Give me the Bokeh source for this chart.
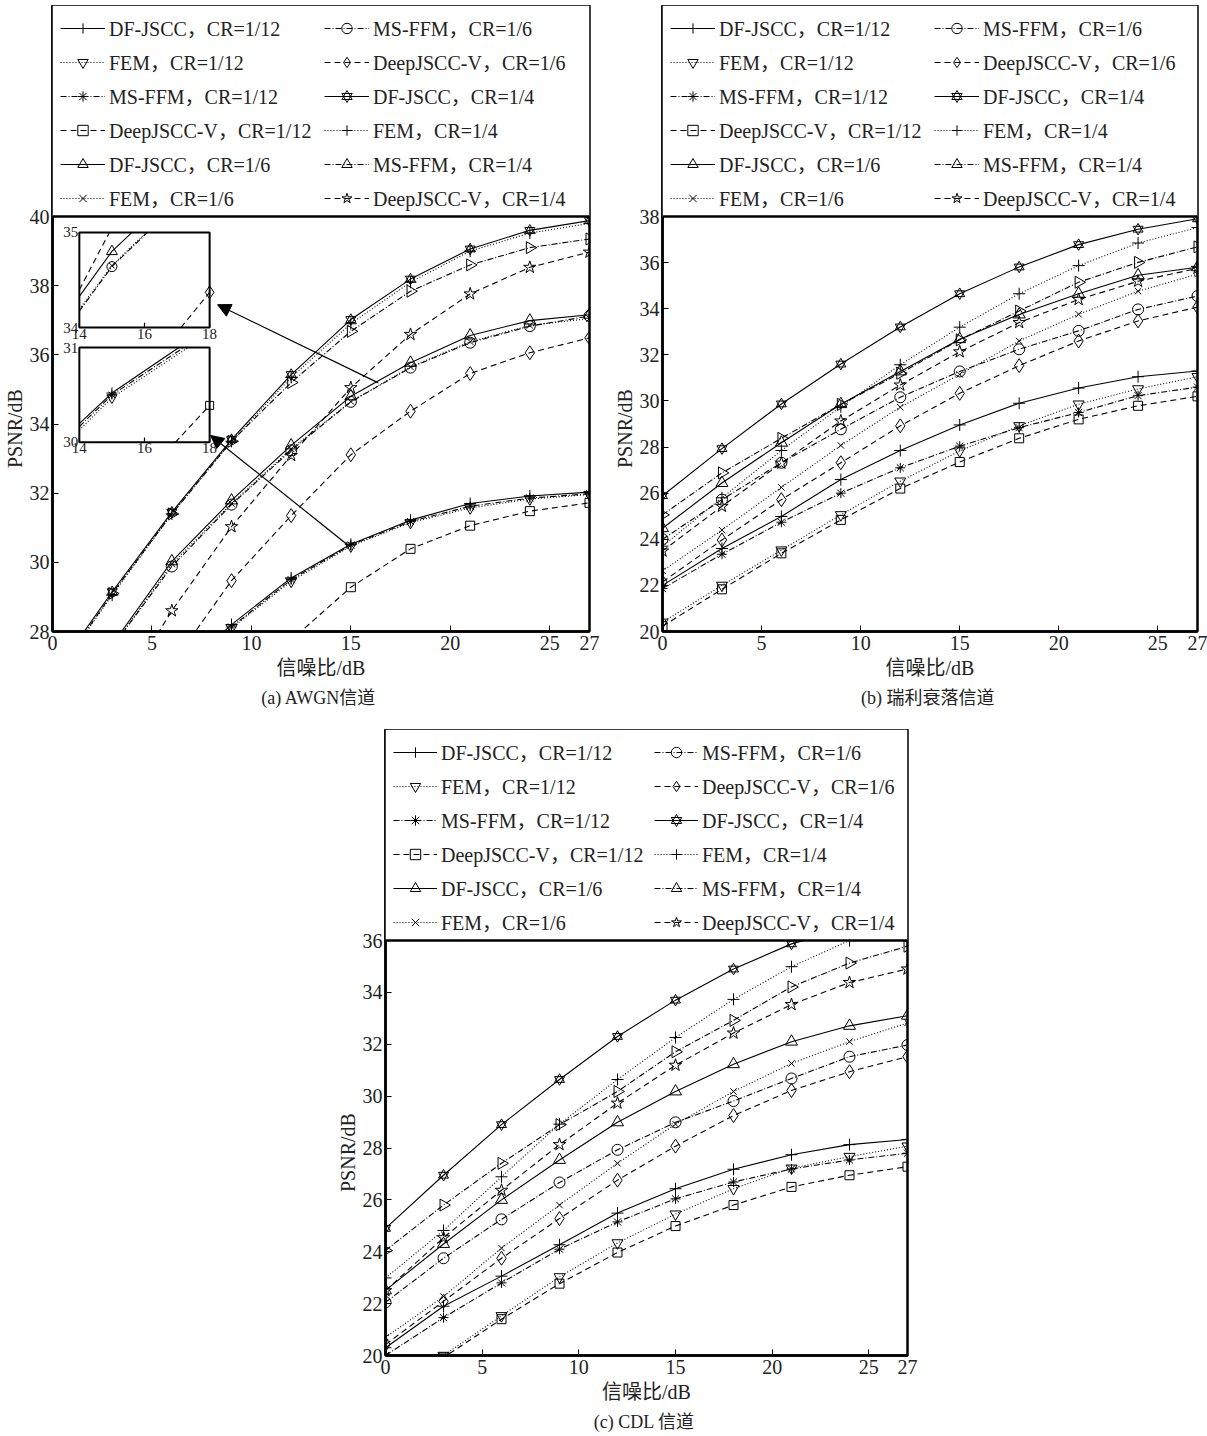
import math
from bokeh.plotting import figure
from bokeh.models import (Range1d, FixedTicker, Legend, LegendItem, Arrow, NormalHead,
                          Spacer, ColumnDataSource, Span, Title, BoxAnnotation)
from bokeh.layouts import column, row
from bokeh.embed import file_html
from bokeh.resources import INLINE
from bokeh.core.properties import value

# ---------------- data ----------------
snr = [0, 3, 6, 9, 12, 15, 18, 21, 24, 27]
x_ticks = [0, 5, 10, 15, 20, 25, 27]
methods = ["DF-JSCC", "FEM", "MS-FFM", "DeepJSCC-V"]
cr_labels = ["1/12", "1/6", "1/4"]

# (a) AWGN
awgn_dfjscc_12 = [24.0, 25.4, 26.6, 28.2, 29.55, 30.52, 31.22, 31.7, 31.92, 32.03]
awgn_fem_12 = [23.9, 25.3, 26.5, 28.1, 29.45, 30.47, 31.15, 31.57, 31.83, 31.96]
awgn_msffm_12 = [23.9, 25.3, 26.5, 28.13, 29.5, 30.5, 31.18, 31.62, 31.86, 31.98]
awgn_deepjsccv_12 = [22.0, 23.8, 25.3, 26.6, 27.75, 29.28, 30.39, 31.06, 31.48, 31.72]
awgn_dfjscc_6 = [25.2, 27.62, 30.03, 31.79, 33.38, 34.8, 35.77, 36.56, 36.99, 37.16]
awgn_fem_6 = [25.1, 27.55, 29.95, 31.7, 33.28, 34.65, 35.65, 36.38, 36.85, 37.05]
awgn_msffm_6 = [25.1, 27.55, 29.88, 31.67, 33.24, 34.64, 35.63, 36.35, 36.83, 37.12]
awgn_deepjsccv_6 = [22.5, 24.8, 27.05, 29.47, 31.35, 33.11, 34.37, 35.46, 36.06, 36.49]
awgn_dfjscc_4 = [26.7, 29.15, 31.45, 33.55, 35.43, 37.02, 38.19, 39.06, 39.6, 39.88]
awgn_fem_4 = [26.6, 29.05, 31.4, 33.5, 35.35, 36.9, 38.1, 39.0, 39.52, 39.8]
awgn_msffm_4 = [26.6, 29.1, 31.4, 33.5, 35.2, 36.68, 37.84, 38.6, 39.1, 39.35]
awgn_deepjsccv_4 = [23.0, 25.8, 28.6, 31.03, 33.09, 35.05, 36.59, 37.76, 38.53, 38.97]

# (b) Rayleigh fading
ray_dfjscc_12 = [22.0, 23.6, 24.99, 26.59, 27.85, 28.96, 29.9, 30.56, 31.05, 31.3]
ray_fem_12 = [20.4, 22.0, 23.53, 25.06, 26.52, 27.83, 28.92, 29.86, 30.52, 31.05]
ray_msffm_12 = [21.86, 23.35, 24.74, 26.0, 27.1, 28.04, 28.84, 29.5, 30.23, 30.6]
ray_deepjsccv_12 = [20.23, 21.83, 23.39, 24.84, 26.2, 27.35, 28.38, 29.2, 29.79, 30.2]
ray_dfjscc_6 = [24.48, 26.44, 28.19, 29.86, 31.28, 32.68, 33.75, 34.65, 35.45, 35.8]
ray_fem_6 = [22.63, 24.4, 26.25, 28.07, 29.73, 31.15, 32.6, 33.76, 34.76, 35.5]
ray_msffm_6 = [24.0, 25.72, 27.32, 28.77, 30.16, 31.28, 32.24, 33.04, 33.97, 34.55]
ray_deepjsccv_6 = [22.15, 23.97, 25.72, 27.32, 28.92, 30.33, 31.53, 32.6, 33.47, 34.07]
ray_dfjscc_4 = [25.89, 27.93, 29.87, 31.6, 33.21, 34.65, 35.81, 36.78, 37.45, 37.9]
ray_fem_4 = [23.7, 25.8, 27.85, 29.75, 31.57, 33.2, 34.65, 35.87, 36.85, 37.52]
ray_msffm_4 = [25.06, 26.88, 28.38, 29.85, 31.2, 32.65, 33.9, 35.15, 36.01, 36.68]
ray_deepjsccv_4 = [23.49, 25.43, 27.3, 29.13, 30.69, 32.13, 33.4, 34.4, 35.19, 35.75]

# (c) CDL
cdl_dfjscc_12 = [20.3, 21.9, 23.06, 24.27, 25.49, 26.43, 27.18, 27.74, 28.13, 28.33]
cdl_fem_12 = [18.3, 20.0, 21.53, 23.03, 24.34, 25.45, 26.43, 27.22, 27.67, 28.07]
cdl_msffm_12 = [20.0, 21.46, 22.8, 24.1, 25.15, 26.04, 26.69, 27.19, 27.54, 27.8]
cdl_deepjsccv_12 = [18.2, 19.92, 21.4, 22.77, 23.97, 24.99, 25.8, 26.5, 26.95, 27.28]
cdl_dfjscc_6 = [22.51, 24.3, 26.0, 27.54, 28.99, 30.18, 31.23, 32.1, 32.71, 33.1]
cdl_fem_6 = [20.7, 22.27, 24.14, 25.8, 27.41, 28.92, 30.18, 31.26, 32.1, 32.82]
cdl_msffm_6 = [22.05, 23.75, 25.25, 26.67, 27.93, 28.99, 29.81, 30.68, 31.52, 31.97]
cdl_deepjsccv_6 = [20.42, 22.09, 23.75, 25.28, 26.76, 28.07, 29.25, 30.22, 30.94, 31.52]
cdl_dfjscc_4 = [24.9, 26.95, 28.9, 30.64, 32.3, 33.7, 34.9, 35.87, 36.5, 36.9]
cdl_fem_4 = [22.99, 24.82, 26.89, 28.92, 30.64, 32.26, 33.73, 34.99, 36.0, 36.6]
cdl_msffm_4 = [24.05, 25.8, 27.41, 28.9, 30.18, 31.71, 32.92, 34.21, 35.13, 35.78]
cdl_deepjsccv_4 = [22.5, 24.54, 26.37, 28.13, 29.73, 31.19, 32.43, 33.53, 34.38, 34.9]

# inset / arrow annotation geometry for (a), in data units of the main plot
inset_upper_box = (1.35, 7.9, 36.79, 39.54)
inset_lower_box = (1.35, 7.9, 33.47, 36.21)
inset_upper_range = (14, 18, 34, 35)
inset_lower_range = (14, 18, 30, 31)
arrow_upper = (16.38, 35.19, 8.3, 37.45)
arrow_lower = (14.83, 30.51, 7.95, 33.67)

# ---------------- styles ----------------
FONT = "Liberation Serif, Noto Sans CJK SC"
DASH = {"DF-JSCC": "solid", "FEM": "1 2", "MS-FFM": "6 2 1 2", "DeepJSCC-V": "6 4"}
MARKERS = {
    ("DF-JSCC", 0): (["cross"], 0.0, 12),
    ("FEM", 0): (["inverted_triangle"], 0.0, 11),
    ("MS-FFM", 0): (["asterisk"], 0.0, 10),
    ("DeepJSCC-V", 0): (["square"], 0.0, 9),
    ("DF-JSCC", 1): (["triangle"], 0.0, 12),
    ("FEM", 1): (["x"], 0.0, 9),
    ("MS-FFM", 1): (["circle"], 0.0, 11),
    ("DeepJSCC-V", 1): (["diamond"], 0.0, 14),
    ("DF-JSCC", 2): (["triangle", "inverted_triangle"], 0.0, 10),
    ("FEM", 2): (["cross"], 0.0, 12),
    ("MS-FFM", 2): (["triangle"], -math.pi / 2, 12),
    ("DeepJSCC-V", 2): (["star"], 0.0, 13),
}

LEG_H = 211      # legend box height in px (top of the frame)
PLOT_H = 415     # data area height in px


def series_meta():
    out = []
    for ci, cr in enumerate(cr_labels):
        for m in methods:
            out.append((m, ci, f"{m}，CR={cr}"))
    return out


def clip_seg(x0, y0, x1, y1, xmin, xmax, ymin, ymax):
    dx, dy = x1 - x0, y1 - y0
    t0, t1 = 0.0, 1.0
    for pp, q in ((-dx, x0 - xmin), (dx, xmax - x0), (-dy, y0 - ymin), (dy, ymax - y0)):
        if pp == 0:
            if q < 0:
                return None
        else:
            r = q / pp
            if pp < 0:
                if r > t1:
                    return None
                t0 = max(t0, r)
            else:
                if r < t0:
                    return None
                t1 = min(t1, r)
    return (x0 + t0 * dx, y0 + t0 * dy, x0 + t1 * dx, y0 + t1 * dy, t0, t1)


def add_inset(p, ys_list, box, rng):
    bx0, bx1, by0, by1 = box
    ix0, ix1, iy0, iy1 = rng
    tx = lambda x: bx0 + (x - ix0) / (ix1 - ix0) * (bx1 - bx0)
    ty = lambda y: by0 + (y - iy0) / (iy1 - iy0) * (by1 - by0)
    p.quad(left=[bx0], right=[bx1], bottom=[by0], top=[by1], fill_color="white",
           line_color="black", line_width=2)
    for ys, (m, ci, _) in zip(ys_list, series_meta()):
        polys_x, polys_y = [], []
        cur_x, cur_y = None, None
        prev_end_full = False
        for k in range(len(snr) - 1):
            c = clip_seg(snr[k], ys[k], snr[k + 1], ys[k + 1], ix0, ix1, iy0, iy1)
            if c is None:
                prev_end_full = False
                continue
            if cur_x is not None and prev_end_full and c[4] == 0.0:
                cur_x.append(tx(c[2])); cur_y.append(ty(c[3]))
            else:
                cur_x = [tx(c[0]), tx(c[2])]
                cur_y = [ty(c[1]), ty(c[3])]
                polys_x.append(cur_x); polys_y.append(cur_y)
            prev_end_full = c[5] == 1.0
        if polys_x:
            p.multi_line(polys_x, polys_y, line_color="black", line_width=1.1,
                         line_dash=DASH[m])
        px = [tx(x) for x, y in zip(snr, ys) if ix0 <= x <= ix1 and iy0 <= y <= iy1]
        py = [ty(y) for x, y in zip(snr, ys) if ix0 <= x <= ix1 and iy0 <= y <= iy1]
        if px:
            mk, ang, size = MARKERS[(m, ci)]
            for mm in mk:
                p.scatter(px, py, marker=mm, size=size - 1, angle=ang, line_color="black",
                          fill_alpha=0, line_width=1)
    xt = list(range(ix0, ix1 + 1, 2))
    tl = 0.05 * (by1 - by0)
    p.segment(x0=[tx(v) for v in xt], y0=[by0] * len(xt), x1=[tx(v) for v in xt],
              y1=[by0 + tl] * len(xt), line_color="black", line_width=1.2)
    p.text(x=[tx(v) for v in xt], y=[by0] * len(xt), text=[str(v) for v in xt],
           text_font=value(FONT), text_font_size="15px", text_align="center",
           text_baseline="top", y_offset=1, text_color="#222222")
    p.text(x=[bx0, bx0], y=[by1, by0], text=[str(iy1), str(iy0)],
           text_font=value(FONT), text_font_size="15px", text_align="right",
           text_baseline="middle", x_offset=-1, text_color="#222222")


def make_panel(ys_list, y0, y1, caption, frame_w, bl, br, bb, glyph_w, label_w):
    y_top = y1 + LEG_H / PLOT_H * (y1 - y0)
    p = figure(frame_width=frame_w, frame_height=LEG_H + PLOT_H,
               x_range=Range1d(0, 27), y_range=Range1d(y0, y_top),
               output_backend="svg", toolbar_location=None, title=caption,
               title_location="below", min_border_left=bl, min_border_right=br,
               min_border_top=0, min_border_bottom=bb)
    p.grid.visible = False
    p.outline_line_color = "black"
    p.outline_line_width = 2.5
    p.outline_line_alpha = 1
    p.xaxis.ticker = FixedTicker(ticks=x_ticks)
    p.yaxis.ticker = FixedTicker(ticks=list(range(y0, y1 + 1, 2)))
    p.xaxis.axis_label = "信噪比/dB"
    for ax in (p.xaxis[0], p.yaxis[0]):
        ax.axis_line_width = 2.5
        ax.axis_line_color = "black"
        ax.major_tick_in = 6
        ax.major_tick_out = 0
        ax.major_tick_line_color = "black"
        ax.minor_tick_line_color = None
        ax.major_label_text_font = FONT
        ax.major_label_text_font_size = "20px"
        ax.major_label_text_color = "#222222"
        ax.major_label_standoff = 4
        ax.axis_label_text_font = FONT
        ax.axis_label_text_font_size = "20px"
        ax.axis_label_text_font_style = "normal"
        ax.axis_label_text_color = "#222222"
        ax.axis_label_standoff = 4
    p.yaxis.major_label_standoff = 3
    # y-axis title centred on the data area (below the legend box)
    ytitle = Title(text="PSNR/dB", align="left", offset=PLOT_H / 2 - 44,
                   text_font=FONT, text_font_size="20px", text_font_style="normal",
                   text_color="#222222", standoff=2)
    p.add_layout(ytitle, "left")
    p.title.align = "center"
    p.title.text_font = FONT
    p.title.text_font_size = "18px"
    p.title.text_font_style = "normal"
    p.title.text_color = "#222222"
    p.title.standoff = 9

    items = []
    for ys, (m, ci, label) in zip(ys_list, series_meta()):
        src = ColumnDataSource(dict(x=snr, y=ys))
        rs = [p.line("x", "y", source=src, line_color="black", line_width=1.1,
                     line_dash=DASH[m])]
        mk, ang, size = MARKERS[(m, ci)]
        for mm in mk:
            rs.append(p.scatter("x", "y", source=src, marker=mm, size=size, angle=ang,
                                line_color="black", fill_alpha=0, line_width=1))
        items.append(LegendItem(label=label, renderers=rs))
    # white legend area above the data region, bounded by the frame and a rule at y1
    p.add_layout(BoxAnnotation(bottom=y1, fill_color="white", fill_alpha=1,
                               line_alpha=0))
    legend = Legend(items=items, location="top_left", orientation="vertical", ncols=2,
                    label_text_font=FONT, label_text_font_size="20px",
                    label_text_color="#222222", label_width=label_w,
                    glyph_width=glyph_w, glyph_height=26, label_height=20,
                    label_standoff=4, spacing=5, padding=8, margin=0,
                    border_line_alpha=0, background_fill_alpha=0)
    p.add_layout(legend, "center")
    p.add_layout(Span(location=y1, dimension="width", line_color="black", line_width=2.5))
    return p


awgn = [awgn_dfjscc_12, awgn_fem_12, awgn_msffm_12, awgn_deepjsccv_12,
        awgn_dfjscc_6, awgn_fem_6, awgn_msffm_6, awgn_deepjsccv_6,
        awgn_dfjscc_4, awgn_fem_4, awgn_msffm_4, awgn_deepjsccv_4]
ray = [ray_dfjscc_12, ray_fem_12, ray_msffm_12, ray_deepjsccv_12,
       ray_dfjscc_6, ray_fem_6, ray_msffm_6, ray_deepjsccv_6,
       ray_dfjscc_4, ray_fem_4, ray_msffm_4, ray_deepjsccv_4]
cdl = [cdl_dfjscc_12, cdl_fem_12, cdl_msffm_12, cdl_deepjsccv_12,
       cdl_dfjscc_6, cdl_fem_6, cdl_msffm_6, cdl_deepjsccv_6,
       cdl_dfjscc_4, cdl_fem_4, cdl_msffm_4, cdl_deepjsccv_4]

pa = make_panel(awgn, 28, 40, "(a)  AWGN信道", 537, 50, 16, 83, 45, 210)
add_inset(pa, awgn, inset_upper_box, inset_upper_range)
add_inset(pa, awgn, inset_lower_box, inset_lower_range)
for a in (arrow_upper, arrow_lower):
    pa.add_layout(Arrow(end=NormalHead(size=13, fill_color="black", line_color="black"),
                        x_start=a[0], y_start=a[1], x_end=a[2], y_end=a[3],
                        line_color="black", line_width=1.2))

pb = make_panel(ray, 20, 38, "(b)  瑞利衰落信道", 535, 57, 12, 83, 45, 210)
pc = make_panel(cdl, 20, 36, "(c)  CDL 信道", 522, 50, 15, 79, 44, 208)

layout = column(Spacer(height=5), row(pa, pb), Spacer(height=15),
                row(Spacer(width=333), pc))

open("out.html", "w").write(file_html(layout, INLINE))
